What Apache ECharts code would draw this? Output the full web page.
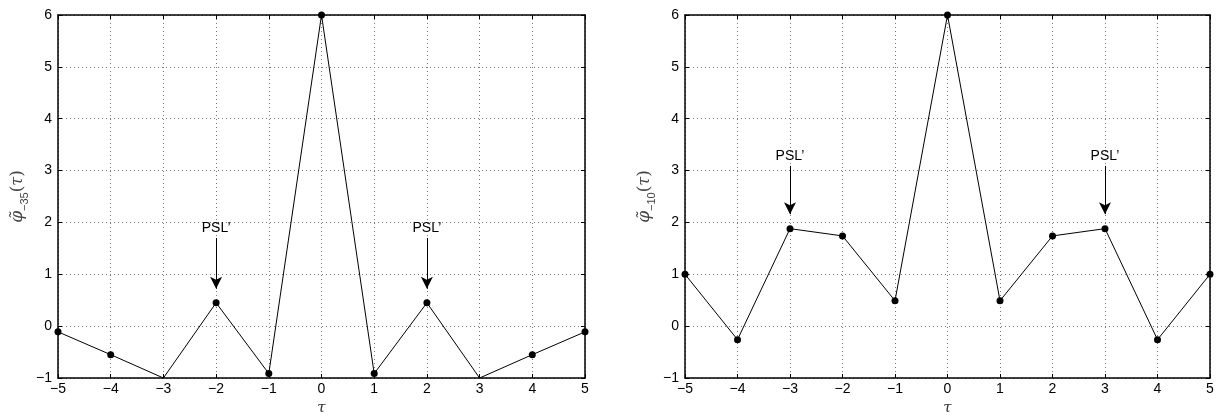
<!DOCTYPE html>
<html><head><meta charset="utf-8">
<script src="https://cdn.jsdelivr.net/npm/echarts@6/dist/echarts.min.js"></script>
<style>html,body{margin:0;padding:0;background:#fff}#c{width:1218px;height:415px}</style>
</head><body><div id="c"></div>
<script>
const taus = [-5,-4,-3,-2,-1,0,1,2,3,4,5];
const phi35 = [-0.11,-0.55,-1,0.45,-0.915,6,-0.915,0.45,-1,-0.55,-0.11];
const phi10 = [1.0,-0.26,1.88,1.74,0.49,6,0.49,1.74,1.88,-0.26,1.0];
const yTicks = [-1,0,1,2,3,4,5,6];
const xTicks = [-5,-4,-3,-2,-1,0,1,2,3,4,5];
// PSL' annotations: [tau, arrow start value, arrow tip value]
const psl35 = [[-2,1.7,0.72],[2,1.7,0.72]];
const psl10 = [[-3,3.09,2.16],[3,3.09,2.16]];
const ySubs = ['\u221235','\u221210'];

const fmt = v => String(v).replace('-', '\u2212');
const lbl = {fontFamily:'Liberation Sans, Arial, sans-serif', fontSize:14, color:'#000'};
const grids = [
  {left:58, right:633, top:15, bottom:37, outerBoundsMode:'none', containLabel:false},
  {left:685, right:8, top:15, bottom:37, outerBoundsMode:'none', containLabel:false}
];
const nameRich = {
  p:{fontFamily:'DejaVu Serif', fontStyle:'italic', fontSize:17, color:'#444', lineHeight:24, verticalAlign:'middle'},
  s:{fontFamily:'Liberation Sans, Arial', fontSize:11, color:'#444', lineHeight:11, verticalAlign:'bottom'},
  b:{fontFamily:'DejaVu Serif', fontSize:17, color:'#444', lineHeight:24, verticalAlign:'middle'},
  t:{fontFamily:'DejaVu Serif', fontStyle:'italic', fontSize:16, color:'#444', lineHeight:24, verticalAlign:'middle'}
};
const xAxis = [], yAxis = [], series = [];
[phi35, phi10].forEach((vals, i) => {
  xAxis.push({type:'value', gridIndex:i, min:-5, max:5, interval:1,
    name:'τ', nameLocation:'middle', nameGap:23,
    nameTextStyle:{fontFamily:'DejaVu Serif', fontStyle:'italic', fontSize:15, color:'#333'},
    axisLine:{show:true, onZero:false, lineStyle:{color:'#000', width:1.5}},
    axisTick:{show:true, inside:true, length:4, lineStyle:{color:'#000'}},
    axisLabel:{...lbl, margin:4, formatter:fmt},
    splitLine:{show:true, lineStyle:{color:'#777', type:[1,3], width:1}}});
  xAxis.push({type:'value', gridIndex:i, min:-5, max:5, interval:1, position:'top',
    axisLine:{show:true, onZero:false, lineStyle:{color:'#000', width:1.5}},
    axisTick:{show:true, inside:true, length:4, lineStyle:{color:'#000'}},
    axisLabel:{show:false}, splitLine:{show:false}});
  yAxis.push({type:'value', gridIndex:i, min:-1, max:6, interval:1,
    name:'{p|φ̃}{s|' + ySubs[i] + '}{b|(}{t|τ}{b|)}', nameLocation:'middle', nameGap:28,
    nameTextStyle:{rich:nameRich},
    axisLine:{show:true, onZero:false, lineStyle:{color:'#000', width:1.5}},
    axisTick:{show:true, inside:true, length:4, lineStyle:{color:'#000'}},
    axisLabel:{...lbl, margin:6, formatter:fmt},
    splitLine:{show:true, lineStyle:{color:'#777', type:[1,3], width:1}}});
  yAxis.push({type:'value', gridIndex:i, min:-1, max:6, interval:1, position:'right',
    axisLine:{show:true, onZero:false, lineStyle:{color:'#000', width:1.5}},
    axisTick:{show:true, inside:true, length:4, lineStyle:{color:'#000'}},
    axisLabel:{show:false}, splitLine:{show:false}});
  const psl = i === 0 ? psl35 : psl10;
  series.push({type:'line', xAxisIndex:2*i, yAxisIndex:2*i,
    data: taus.map((t,k)=>({value:[t, vals[k]], symbolSize: vals[k] <= -1 ? 0 : 7})),
    symbol:'circle', itemStyle:{color:'#000'},
    lineStyle:{color:'#000', width:1}, clip:false, animation:false,
    markLine:{silent:true, animation:false, symbol:['none','arrow'], symbolSize:[9,12],
      lineStyle:{color:'#000', width:1, type:'solid'},
      label:{show:true, position:'start', formatter:'PSL\u2019', distance:3,
        fontFamily:'Liberation Sans, Arial, sans-serif', fontSize:14, color:'#000'},
      data: psl.map(p => [{coord:[p[0], p[1]]}, {coord:[p[0], p[2]]}])}
  });
});
const chart = echarts.init(document.getElementById('c'), null, {renderer:'canvas'});
chart.setOption({animation:false, grid:grids, xAxis, yAxis, series});
</script></body></html>
